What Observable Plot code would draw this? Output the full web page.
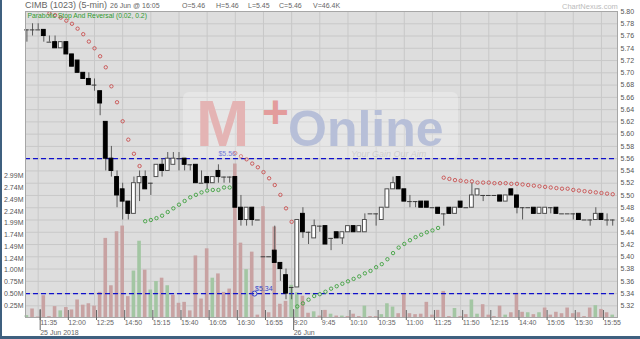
<!DOCTYPE html>
<html><head><meta charset="utf-8">
<script src="https://cdn.jsdelivr.net/npm/d3@7"></script>
<script src="https://cdn.jsdelivr.net/npm/@observablehq/plot@0.6"></script>
<style>
body{margin:0;background:#fff;}
#wrap{position:relative;width:640px;height:339px;overflow:hidden;font-family:"Liberation Sans",Arial,sans-serif;}
#wrap svg{position:absolute;left:0;top:0;}
.t{position:absolute;white-space:nowrap;color:#666;line-height:normal;}
.wm{line-height:0.7;pointer-events:none;}
</style></head><body><div id="wrap"></div>
<script>
// ---- data ----
const openP=[5.77,5.77,5.77,5.77,5.75,5.75,5.74,5.75,5.73,5.72,
5.70,5.69,5.68,5.67,5.62,5.56,5.53,5.51,5.49,5.47,
5.52,5.53,5.52,5.53,5.55,5.54,5.55,5.56,5.56,5.55,
5.55,5.52,5.53,5.52,5.54,5.53,5.53,5.53,5.48,5.46,
5.48,5.46,5.40,5.40,5.41,5.39,5.37,5.35,5.35,5.47,
5.44,5.43,5.45,5.45,5.43,5.44,5.43,5.44,5.45,5.44,
5.44,5.47,5.47,5.46,5.48,5.51,5.53,5.51,5.49,5.49,
5.49,5.49,5.48,5.48,5.47,5.48,5.47,5.49,5.48,5.48,
5.50,5.50,5.50,5.50,5.50,5.49,5.51,5.50,5.48,5.48,
5.48,5.47,5.47,5.48,5.48,5.47,5.47,5.47,5.47,5.46,
5.46,5.46,5.47,5.46,5.46];
const highP=[5.77,5.78,5.78,5.77,5.76,5.76,5.75,5.75,5.73,5.72,
5.70,5.70,5.69,5.67,5.62,5.58,5.54,5.52,5.49,5.53,
5.54,5.54,5.52,5.55,5.56,5.57,5.57,5.57,5.56,5.55,
5.55,5.54,5.53,5.53,5.55,5.53,5.53,5.53,5.50,5.48,
5.48,5.46,5.40,5.40,5.45,5.39,5.38,5.35,5.46,5.48,
5.44,5.46,5.45,5.45,5.43,5.44,5.44,5.45,5.45,5.45,
5.47,5.47,5.47,5.48,5.51,5.53,5.53,5.51,5.50,5.49,
5.49,5.49,5.48,5.48,5.47,5.48,5.48,5.49,5.48,5.52,
5.51,5.50,5.50,5.50,5.50,5.50,5.51,5.50,5.48,5.48,
5.48,5.48,5.48,5.48,5.48,5.47,5.47,5.47,5.47,5.46,
5.46,5.48,5.47,5.47,5.46];
const lowP=[5.75,5.76,5.77,5.75,5.75,5.74,5.74,5.73,5.71,5.70,
5.69,5.68,5.67,5.63,5.54,5.53,5.48,5.46,5.46,5.47,
5.49,5.51,5.50,5.53,5.53,5.54,5.55,5.54,5.54,5.54,
5.52,5.52,5.51,5.52,5.52,5.52,5.52,5.48,5.45,5.45,
5.45,5.46,5.40,5.40,5.39,5.36,5.33,5.33,5.35,5.43,
5.42,5.43,5.44,5.42,5.41,5.43,5.42,5.44,5.44,5.44,
5.44,5.47,5.45,5.46,5.48,5.51,5.51,5.49,5.48,5.48,
5.48,5.48,5.48,5.47,5.45,5.47,5.47,5.48,5.48,5.48,
5.50,5.49,5.50,5.50,5.49,5.49,5.50,5.47,5.46,5.48,
5.47,5.47,5.47,5.47,5.47,5.47,5.47,5.46,5.46,5.46,
5.45,5.46,5.46,5.45,5.45];
const closeP=[5.77,5.77,5.77,5.76,5.75,5.74,5.75,5.73,5.71,5.70,
5.69,5.68,5.68,5.65,5.56,5.54,5.50,5.49,5.47,5.52,
5.53,5.51,5.52,5.55,5.54,5.56,5.56,5.56,5.55,5.55,
5.52,5.52,5.52,5.53,5.53,5.53,5.53,5.48,5.46,5.48,
5.46,5.46,5.40,5.40,5.39,5.38,5.34,5.35,5.46,5.44,
5.44,5.45,5.45,5.42,5.43,5.43,5.44,5.45,5.44,5.45,
5.46,5.47,5.47,5.48,5.51,5.52,5.51,5.49,5.49,5.49,
5.48,5.48,5.48,5.47,5.47,5.47,5.48,5.48,5.48,5.50,
5.51,5.50,5.50,5.50,5.49,5.50,5.50,5.48,5.48,5.48,
5.47,5.48,5.48,5.48,5.47,5.47,5.47,5.47,5.46,5.46,
5.46,5.47,5.46,5.46,5.46];
// volume in millions
const volume=[0.04,0.18,0.01,0.46,0.02,0.23,0.14,0.21,0.16,0.37,
0.26,0.29,0.24,0.53,1.67,0.67,1.81,1.93,0.44,0.98,
1.61,1.00,0.58,0.76,0.83,0.67,0.47,0.30,0.32,0.14,
1.30,0.39,1.45,0.83,0.92,0.53,0.60,3.24,1.57,1.01,
1.38,0.05,2.34,0.10,1.91,0.28,0.34,0.68,0.52,0.45,
0.09,0.12,0.03,0.15,0.07,0.03,0.03,0.02,0.07,0.02,
0.24,0.02,0.02,0.06,0.29,0.22,0.08,0.50,0.08,0.06,
0.07,0.32,0.05,0.15,0.55,0.02,0.19,0.02,0.06,0.37,
0.07,0.27,0.05,0.02,0.24,0.05,0.10,0.51,0.11,0.10,
0.06,0.10,0.20,0.05,0.11,0.08,0.20,0.08,0.10,0.02,
0.20,0.25,0.17,0.10,0.05];
const volumeUpBars=[0,6,19,20,22,23,25,33,39,47,48,51,54,56,60,63,64,65,76,79,80,85,89,91,101,104];
// Parabolic SAR (0.02, 0.2)
const sar=[null,null,null,null,5.797,5.794,5.790,5.785,5.780,5.772,5.763,5.751,5.740,5.727,5.709,5.678,5.652,5.621,5.591,5.568,5.548,
5.458,5.460,5.463,5.467,5.473,5.479,5.485,5.491,5.497,5.501,5.505,5.508,5.509,5.509,5.513,5.513,
5.569,5.564,5.559,5.552,5.546,5.538,5.528,5.517,5.501,5.479,5.457,
5.319,5.324,5.330,5.336,5.339,5.343,5.348,5.352,5.356,5.360,5.364,5.368,5.373,5.377,5.383,5.388,5.396,5.406,5.415,5.421,5.427,5.432,5.436,5.440,5.443,5.447,
5.529,5.527,5.525,5.524,5.523,5.523,5.521,5.521,5.521,5.520,5.520,5.520,5.519,5.519,5.518,5.517,5.516,5.515,5.514,5.513,5.512,5.511,5.511,5.509,5.508,5.507,5.506,5.505,5.504,5.503,5.502];
const timeLabels=["11:35","12:00","12:25","14:50","15:15","15:40","16:05","16:30","16:55","9:20","9:45","10:10","10:35","11:00","11:25","11:50","12:15","14:40","15:05","15:30","15:55"];
const timeLabelBars=[2,7,12,17,22,27,32,37,42,47,52,57,62,67,72,77,82,87,92,97,102];
const dateLabels=["25 Jun 2018","26 Jun"];
const dateLabelBars=[2,47];
const priceTicks=[5.32,5.34,5.36,5.38,5.40,5.42,5.44,5.46,5.48,5.50,5.52,5.54,5.56,5.58,5.60,5.62,5.64,5.66,5.68,5.70,5.72,5.74,5.76,5.78,5.80];
const volumeTickValues=[0.25,0.50,0.75,1.00,1.24,1.49,1.74,1.99,2.24,2.49,2.74,2.99];
const volumeTickLabels=["0.25M","0.50M","0.75M","1.00M","1.24M","1.49M","1.74M","1.99M","2.24M","2.49M","2.74M","2.99M"];
const levelPrices=[5.56,5.34];
const levelLabels=["$5.56","$5.34"];
const levelLabelBars=[34,40.5];
const quote={name:"CIMB (1023) (5-min)",time:"26 Jun @ 16:05",O:"5.46",H:"5.46",L:"5.45",C:"5.46",V:"46.4K"};

// ---- chart ----
const n=openP.length;
const bars=d3.range(n);
const priceDomain=[5.301,5.80];
const volToPrice=d3.scaleLinear().domain([0,6.46]).range(priceDomain);
const upSet=new Set(volumeUpBars);
const bodies=bars.filter(i=>openP[i]!==closeP[i]);
const dojis=bars.filter(i=>openP[i]===closeP[i]);
const sarBars=bars.filter(i=>sar[i]!=null);
const volLabelMap=new Map(volumeTickValues.map((v,k)=>[volToPrice(v),volumeTickLabels[k]]));
const timeMap=new Map(timeLabelBars.map((b,k)=>[b,timeLabels[k]]));
const dateMap=new Map(dateLabelBars.map((b,k)=>[b,dateLabels[k]]));
const levels=levelPrices.map((p,k)=>({p,label:levelLabels[k],b:levelLabelBars[k]}));

const chart=Plot.plot({
  width:640,height:339,
  marginLeft:25,marginRight:23,marginTop:11,marginBottom:22,
  x:{type:"linear",domain:[-0.25,104.85],axis:null,label:null},
  y:{domain:priceDomain,axis:null,label:null},
  style:{background:"transparent",fontFamily:"'Liberation Sans',Arial,sans-serif"},
  marks:[
    Plot.frame({fill:"#dddddd",stroke:null}),
    Plot.ruleY(priceTicks,{stroke:"#c8c8c8"}),
    Plot.ruleX(timeLabelBars,{stroke:"#c8c8c8"}),
    // volume
    Plot.rect(bars,{x1:i=>i-0.32,x2:i=>i+0.32,y1:priceDomain[0],y2:i=>volToPrice(volume[i]),
      fill:i=>upSet.has(i)?"#a3c6a3":"#c8a2a2"}),
    // level lines
    Plot.ruleY(levelPrices,{stroke:"#1010cc",strokeWidth:1.4,strokeDasharray:"5,3"}),
    Plot.text(levels,{x:"b",y:"p",text:"label",textAnchor:"start",dy:-5,fill:"#3a46c8",fontSize:7}),
    Plot.dot([levels[1]],{x:d=>d.b-0.1,y:"p",r:2.5,stroke:"#3a46c8",strokeWidth:1}),
    // candles
    Plot.ruleX(bars,{x:i=>i,y1:i=>lowP[i],y2:i=>highP[i],stroke:"#5a5a5a"}),
    Plot.rect(bodies,{x1:i=>i-0.34,x2:i=>i+0.34,y1:i=>openP[i],y2:i=>closeP[i],
      fill:i=>closeP[i]<openP[i]?"#000":"#fff",stroke:i=>closeP[i]<openP[i]?"#000":"#505050",strokeWidth:1}),
    Plot.ruleY(dojis,{y:i=>openP[i],x1:i=>i-0.42,x2:i=>i+0.42,stroke:"#3a3a3a"}),
    // SAR
    Plot.dot(sarBars,{x:i=>i,y:i=>sar[i],r:1.7,fill:"none",strokeWidth:0.9,
      stroke:i=>sar[i]>closeP[i]?"#c85050":"#3ea03e"}),
    Plot.frame({stroke:"#a6a6a6"}),
    Plot.text(["Parabolic Stop And Reversal (0.02, 0.2)"],{frameAnchor:"top-left",dx:2,dy:2,fill:"#2f9a2f",fontSize:6.8}),
    // axes
    Plot.axisY({anchor:"right",label:null,ticks:priceTicks,tickSize:0,tickPadding:3,tickFormat:d=>d.toFixed(2),fontSize:7,color:"#555"}),
    Plot.axisY({anchor:"left",label:null,ticks:volumeTickValues.map(v=>volToPrice(v)),tickSize:0,tickPadding:2,tickFormat:d=>volLabelMap.get(d),fontSize:7,color:"#555"}),
    Plot.axisX({label:null,ticks:timeLabelBars,tickSize:10,tickPadding:0,dy:-7,dx:2,textAnchor:"start",tickFormat:d=>timeMap.get(d),fontSize:7,color:"#666"}),
    Plot.axisX({label:null,ticks:dateLabelBars,tickSize:21,tickPadding:0,dy:-8,dx:2,textAnchor:"start",tickFormat:d=>dateMap.get(d),fontSize:7,color:"#666"})
  ]
});
const wrap=document.getElementById("wrap");
wrap.appendChild(chart);

function addText(txt,left,top,size,color,extra,cls){
  const s=document.createElement("div");s.className="t"+(cls?" "+cls:"");s.textContent=txt;
  s.style.left=left+"px";s.style.top=top+"px";s.style.fontSize=size+"px";if(color)s.style.color=color;
  if(extra)Object.assign(s.style,extra);wrap.appendChild(s);return s;
}
addText(quote.name,25,0,9,"#666");
addText(quote.time,110,1.5,7,"#666");
addText("O="+quote.O,182,1.5,7,"#666");
addText("H="+quote.H,216,1.5,7,"#666");
addText("L="+quote.L,248,1.5,7,"#666");
addText("C="+quote.C,279,1.5,7,"#666");
addText("V="+quote.V,313,1.5,7,"#666");
addText("ChartNexus.com",562,1.5,7.5,"#bbb");

// watermark
const wm=document.createElement("div");
Object.assign(wm.style,{position:"absolute",left:"183px",top:"92px",width:"275px",height:"66px",background:"rgba(255,255,255,0.28)",borderRadius:"6px",pointerEvents:"none"});
wrap.appendChild(wm);
addText("M",196,102.3,64,"#e4b4b4",{fontWeight:"bold"},"wm");
addText("+",262,96.4,46,"#e39c9c",{fontWeight:"bold"},"wm");
addText("Online",288,112.2,50,"#b7bfd8",{fontWeight:"bold"},"wm");
addText("Your Gain Our Aim",351,150.7,9,"rgba(170,170,170,0.45)",{fontStyle:"italic"},"wm");

// frame borders of the screenshot
const lb=document.createElement("div");Object.assign(lb.style,{position:"absolute",left:"0",top:"0",width:"2px",height:"339px",background:"#3f607f"});wrap.appendChild(lb);
const bb=document.createElement("div");Object.assign(bb.style,{position:"absolute",left:"0",top:"336px",width:"640px",height:"3px",background:"#3f607f"});wrap.appendChild(bb);
</script></body></html>
